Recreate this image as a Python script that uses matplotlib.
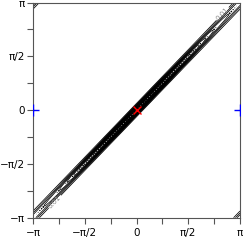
import numpy as np
import matplotlib
matplotlib.use("Agg")
import matplotlib.pyplot as plt

# parameters of the plotted density
peak_scale = 0.10         # overall scale of the density
ridge_shape = 0.46        # how fast the ridge drops from centre to the ends
kappa_mean = 130.0        # concentration of (x - y) on average
kappa_spread = 55.0       # extra concentration at the centre
levels = np.arange(0.01, 0.26, 0.01)
label_level = [0.01]
label_pos = [(2.56, 2.86), (-2.41, -2.74)]

# marked points
mode_x = [0.0]
mode_y = [0.0]
edge_x = [-np.pi, np.pi]
edge_y = [0.0, 0.0]

tick_pos = np.arange(-4, 5) * np.pi / 4
tick_labels = ['\u2212\u03c0', '', '\u2212\u03c0/2', '', '0', '', '\u03c0/2', '', '\u03c0']

# density on a grid
grid = np.linspace(-np.pi, np.pi, 121)
X, Y = np.meshgrid(grid, grid)
s = np.cos(X) + np.cos(Y)
kappa = kappa_mean + kappa_spread * s / 2
Z = peak_scale * np.exp(ridge_shape * s) * np.exp(kappa * (np.cos(X - Y) - 1))

fig = plt.figure(figsize=(2.44, 2.44), dpi=100)
ax = fig.add_axes([33 / 244, (244 - 217.7) / 244, 207 / 244, 215.2 / 244])

cs = ax.contour(X, Y, Z, levels=levels, colors='black', linewidths=0.55)
ax.clabel(cs, levels=label_level, fmt='%.2f', fontsize=5, colors='#8c8c8c',
          inline=True, inline_spacing=1, manual=label_pos)

ax.plot(mode_x, mode_y, 'x', color='red', markersize=6, mew=1.0, zorder=5)
ax.plot(edge_x, edge_y, '+', color='blue', markersize=9, mew=1.0, zorder=7, clip_on=True)

ax.set_xlim(-np.pi, np.pi)
ax.set_ylim(-np.pi, np.pi)
ax.set_xticks(tick_pos)
ax.set_xticklabels(tick_labels)
ax.set_yticks(tick_pos)
ax.set_yticklabels(tick_labels)
ax.tick_params(direction='out', length=4.5, width=0.8, color='#555555',
               labelsize=7.5, pad=1.5)
ax.tick_params(axis='x', pad=3)
for sp in ax.spines.values():
    sp.set_color('#555555')
    sp.set_linewidth(0.8)
    sp.set_zorder(6)

fig.savefig('out.png', dpi=100)
